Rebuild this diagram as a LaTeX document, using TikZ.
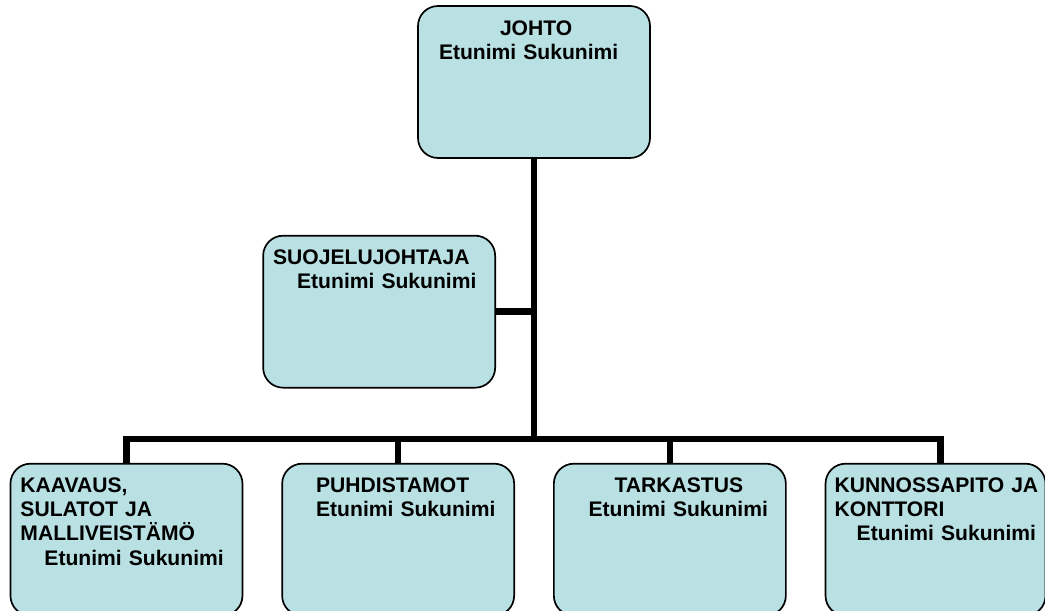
\documentclass[tikz,border=0pt]{standalone}
\usepackage{fontspec}
\setmainfont{Liberation Sans}
\usetikzlibrary{positioning,calc}
\definecolor{boxblue}{RGB}{185,224,227}
\tikzstyle{orgbox}=[rectangle, rounded corners=5mm, draw=black, fill=boxblue, line width=1.2pt,
inner xsep=2.5mm, inner ysep=3.5mm, text width=53mm, align=left, text height=3.8mm, text depth=27.2mm,
font=\bfseries\fontsize{15pt}{17.1pt}\selectfont]
\tikzstyle{orgline}=[-, line width=4.6pt, black]

\begin{document}
\begin{tikzpicture}[node distance=0mm]
\useasboundingbox (0,0) rectangle (261.25mm,-152.75mm);

% Johto
    \node (johto) [orgbox] at (133.5mm,-20.5mm) {\hspace*{18mm}JOHTO\\ \hspace*{2.75mm}Etunimi Sukunimi};

% Suojelujohtaja
    \node (suoj) [orgbox, below left=19mm and 9.5mm of johto.south] {SUOJELUJOHTAJA\\ \hspace*{6mm}Etunimi Sukunimi};

% Osastot
    \coordinate [below=70mm of johto.south] (busc);
    \node (puhd) [orgbox, below left=6mm and 4.75mm of busc] {\hspace*{6mm}PUHDISTAMOT\\ \hspace*{6mm}Etunimi Sukunimi};
    \node (tark) [orgbox, below right=6mm and 4.75mm of busc] {\hspace*{12.7mm}TARKASTUS\\ \hspace*{6.2mm}Etunimi Sukunimi};
    \node (kaav) [orgbox, left=9.5mm of puhd] {KAAVAUS,\\SULATOT JA\\MALLIVEISTÄMÖ\\ \hspace*{6mm}Etunimi Sukunimi};
    \node (kunn) [orgbox, right=9.5mm of tark, inner xsep=1mm, text width=53mm] {\hspace*{1.3mm}KUNNOSSAPITO~JA\\ \hspace*{1.3mm}KONTTORI\\ \hspace*{6.8mm}Etunimi Sukunimi};
    \coordinate (kunntop) at ($(kunn.north west)+(29mm,0)$);

\draw[orgline] (johto.south) -- (busc);
\draw[orgline] (suoj.east) -- (suoj.east -| busc);
\draw[orgline] (kaav.north) |- (busc) -| (kunntop);
\draw[orgline] (puhd.north) -- (puhd.north |- busc);
\draw[orgline] (tark.north) -- (tark.north |- busc);

\end{tikzpicture}
\end{document}
